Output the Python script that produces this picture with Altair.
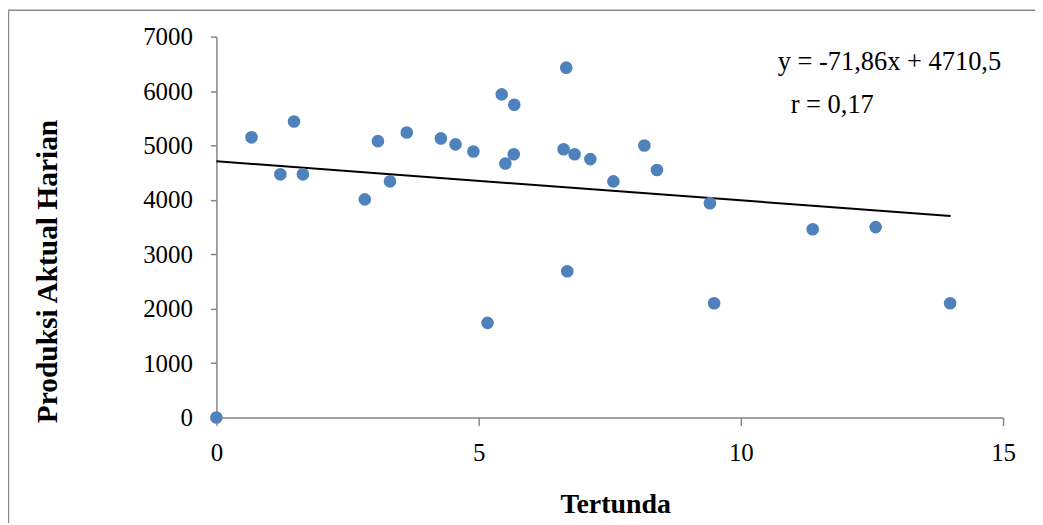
import altair as alt
import pandas as pd

# Data
tertunda = [0.0, 0.67, 1.22, 1.48, 1.65, 2.83, 3.08, 3.31, 3.63, 4.28,
            4.56, 4.90, 5.17, 5.44, 5.51, 5.68, 5.67, 6.62, 6.67, 6.69,
            6.83, 7.13, 7.57, 8.16, 8.40, 9.41, 9.49, 11.37, 12.57, 13.99]
produksi = [0, 5150, 4470, 5440, 4470, 4010, 5080, 4340, 5240, 5130,
            5020, 4890, 1740, 5940, 4670, 5750, 4840, 4930, 6430, 2690,
            4840, 4750, 4340, 5000, 4550, 3940, 2100, 3460, 3500, 2100]

slope = -71.86
intercept = 4710.5
line_x = [0, 14]
eq_text = ["y = -71,86x + 4710,5"]
r_text = ["r = 0,17"]

pts = pd.DataFrame({"Tertunda": tertunda, "Produksi": produksi})
line_df = pd.DataFrame({"Tertunda": line_x,
                        "Produksi": [slope * v + intercept for v in line_x]})

FONT = "Liberation Serif"
AXIS_COLOR = "#868686"

xscale = alt.Scale(domain=[0, 15], nice=False, zero=True)
yscale = alt.Scale(domain=[0, 7000], nice=False)

xaxis = alt.Axis(values=[0, 5, 10, 15], grid=False, domainColor=AXIS_COLOR,
                 domainWidth=1.5, tickColor=AXIS_COLOR, tickWidth=1.5,
                 tickSize=8, labelFont=FONT, labelFontSize=25, labelColor="black",
                 labelPadding=15, labelFlush=False, format="d",
                 title="Tertunda", titleFont=FONT,
                 titleFontSize=28, titleFontWeight="bold", titleColor="black",
                 titleX=400, titleY=87, titleBaseline="middle", titleAlign="center")
yaxis = alt.Axis(values=list(range(0, 7001, 1000)), grid=False,
                 domainColor=AXIS_COLOR, domainWidth=1.5, tickColor=AXIS_COLOR,
                 tickWidth=1.5, tickSize=6, labelFont=FONT, labelFontSize=25,
                 labelColor="black", labelPadding=18, labelFlush=False, format="d",
                 title="Produksi Aktual Harian", titleFont=FONT,
                 titleFontSize=29.5, titleFontWeight="bold", titleColor="black",
                 titleAngle=270, titleX=-169, titleY=235,
                 titleBaseline="middle", titleAlign="center")

points = alt.Chart(pts).mark_circle(size=160, color="#4F81BD", opacity=1).encode(
    x=alt.X("Tertunda:Q", scale=xscale, axis=xaxis),
    y=alt.Y("Produksi:Q", scale=yscale, axis=yaxis),
)

trend = alt.Chart(line_df).mark_line(color="black", strokeWidth=2).encode(
    x=alt.X("Tertunda:Q", scale=xscale),
    y=alt.Y("Produksi:Q", scale=yscale),
)

eq = alt.Chart(pd.DataFrame({"t": eq_text})).mark_text(
    font=FONT, fontSize=26.5, align="left", baseline="middle", color="black"
).encode(text="t:N", x=alt.value(563), y=alt.value(25))

rr = alt.Chart(pd.DataFrame({"t": r_text})).mark_text(
    font=FONT, fontSize=26.5, align="left", baseline="middle", color="black"
).encode(text="t:N", x=alt.value(576), y=alt.value(69))

frame = alt.Chart(pd.DataFrame({"a": [1]})).mark_rect(
    fill=None, stroke="#8c8c8c", strokeWidth=1.5
).encode(x=alt.value(-208.5), y=alt.value(-26.5), x2=alt.value(1200), y2=alt.value(700))

chart = alt.layer(frame, trend, points, eq, rr).properties(
    width=789, height=382,
    autosize=alt.AutoSizeParams(type="none"),
    padding={"left": 209, "top": 28, "right": 32, "bottom": 105},
).configure_view(stroke=None)

chart.save("out.html", embed_options={"renderer": "svg", "actions": False})
